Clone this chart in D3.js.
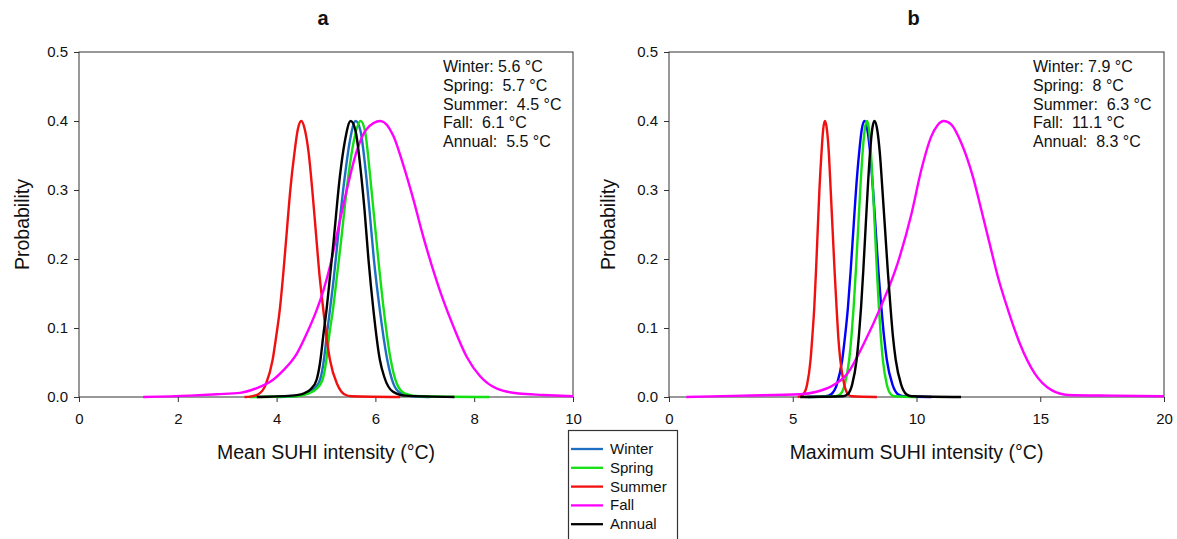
<!DOCTYPE html>
<html>
<head>
<meta charset="utf-8">
<script src="https://cdn.jsdelivr.net/npm/d3@7"></script>
<style>
  html, body { margin: 0; padding: 0; background: #ffffff; }
  svg { display: block; font-family: "Liberation Sans", Arial, sans-serif; }
  text { fill: #111; }
</style>
</head>
<body>
<svg id="chart" width="1177" height="539"></svg>
<script>
// Season names, legend order and colours
const seasons = ["Winter", "Spring", "Summer", "Fall", "Annual"];
const coloursA = ["#1e6ec2", "#12e012", "#f01010", "#ff00ff", "#000000"];
const coloursB = ["#0000ff", "#12e012", "#f01010", "#ff00ff", "#000000"];

// Peak (mean) SUHI intensity per season, °C
const meanA = [5.6, 5.7, 4.5, 6.1, 5.5];
const meanB = [7.9, 8, 6.3, 11.1, 8.3];

// Axis ticks
const xTicksA = [0, 2, 4, 6, 8, 10];
const xTicksB = [0, 5, 10, 15, 20];
const yTicks = [0.0, 0.1, 0.2, 0.3, 0.4, 0.5];

// Probability density curves, [intensity °C, probability] — mean SUHI
const winterA = [[4.0,0],[4.35,0.001],[4.60,0.005],[4.76,0.012],[4.88,0.025],[4.95,0.050],[5.02,0.092],[5.08,0.126],[5.16,0.174],[5.23,0.223],[5.38,0.319],[5.48,0.370],[5.6,0.4],[5.70,0.385],[5.80,0.330],[5.88,0.271],[5.97,0.199],[6.09,0.126],[6.24,0.054],[6.36,0.020],[6.50,0.006],[6.75,0.001],[7.1,0]];
const springA = [[3.45,0],[4.35,0.001],[4.64,0.005],[4.81,0.012],[4.93,0.025],[5.00,0.050],[5.07,0.092],[5.14,0.126],[5.22,0.174],[5.30,0.223],[5.45,0.319],[5.56,0.370],[5.7,0.4],[5.79,0.385],[5.88,0.330],[5.96,0.271],[6.06,0.199],[6.17,0.126],[6.31,0.054],[6.43,0.020],[6.60,0.005],[6.90,0.001],[8.3,0]];
const summerA = [[3.35,0],[3.49,0.001],[3.63,0.004],[3.78,0.018],[3.92,0.054],[3.99,0.087],[4.07,0.130],[4.14,0.183],[4.21,0.243],[4.28,0.302],[4.36,0.353],[4.43,0.388],[4.5,0.4],[4.57,0.388],[4.65,0.353],[4.72,0.302],[4.79,0.243],[4.86,0.183],[4.94,0.130],[5.01,0.087],[5.08,0.054],[5.23,0.018],[5.37,0.004],[5.52,0.001],[6.5,0]];
const fallA = [[1.3,0],[2.25,0.002],[2.79,0.004],[3.26,0.006],[3.60,0.013],[3.87,0.022],[4.14,0.039],[4.41,0.063],[4.61,0.092],[4.81,0.126],[4.95,0.155],[5.08,0.189],[5.22,0.235],[5.42,0.300],[5.62,0.356],[5.82,0.388],[6.1,0.4],[6.36,0.379],[6.57,0.335],[6.77,0.286],[6.97,0.232],[7.17,0.184],[7.37,0.141],[7.58,0.102],[7.85,0.058],[8.12,0.030],[8.46,0.012],[8.9,0.005],[9.4,0.003],[10,0.001]];
const annualA = [[3.6,0],[4.30,0.002],[4.54,0.005],[4.70,0.012],[4.81,0.025],[4.88,0.050],[4.95,0.092],[5.01,0.126],[5.08,0.174],[5.15,0.223],[5.28,0.319],[5.38,0.370],[5.5,0.4],[5.60,0.385],[5.70,0.330],[5.78,0.271],[5.86,0.199],[5.96,0.126],[6.09,0.054],[6.18,0.029],[6.35,0.008],[6.60,0.002],[7.6,0]];

// Probability density curves — maximum SUHI
const winterB = [[5.6,0],[6.33,0.001],[6.55,0.004],[6.78,0.018],[7.00,0.054],[7.11,0.087],[7.23,0.130],[7.34,0.183],[7.45,0.243],[7.56,0.302],[7.68,0.353],[7.79,0.388],[7.9,0.4],[8.01,0.388],[8.13,0.353],[8.24,0.302],[8.35,0.243],[8.46,0.183],[8.58,0.130],[8.69,0.087],[8.80,0.054],[9.03,0.018],[9.25,0.004],[9.48,0.001],[10.6,0]];
const springB = [[5.5,0],[6.74,0.001],[6.92,0.004],[7.10,0.018],[7.28,0.054],[7.37,0.087],[7.46,0.130],[7.55,0.183],[7.64,0.243],[7.73,0.302],[7.82,0.353],[7.91,0.388],[8,0.4],[8.08,0.388],[8.16,0.353],[8.24,0.302],[8.32,0.243],[8.40,0.183],[8.48,0.130],[8.56,0.087],[8.64,0.054],[8.80,0.018],[8.96,0.004],[9.12,0.001],[10.0,0]];
const summerB = [[5.2,0],[5.29,0.001],[5.43,0.004],[5.58,0.018],[5.72,0.054],[5.79,0.087],[5.87,0.130],[5.94,0.183],[6.01,0.243],[6.08,0.302],[6.16,0.353],[6.23,0.388],[6.3,0.4],[6.38,0.388],[6.46,0.353],[6.53,0.302],[6.61,0.243],[6.69,0.183],[6.77,0.130],[6.84,0.087],[6.92,0.054],[7.08,0.018],[7.23,0.004],[7.39,0.001],[8.4,0]];
const fallB = [[0.7,0],[3,0.002],[5.31,0.004],[6.0,0.008],[6.53,0.015],[7.21,0.034],[7.88,0.078],[8.56,0.131],[9.24,0.194],[9.8,0.266],[10.2,0.33],[10.59,0.377],[10.85,0.394],[11.1,0.4],[11.4,0.395],[11.81,0.368],[12.28,0.319],[12.62,0.271],[12.95,0.223],[13.29,0.174],[13.70,0.126],[14.17,0.078],[14.78,0.034],[15.46,0.010],[16.13,0.003],[18,0.002],[20,0.001]];
const annualB = [[5.3,0],[7.04,0.001],[7.22,0.004],[7.40,0.018],[7.58,0.054],[7.67,0.087],[7.76,0.130],[7.85,0.183],[7.94,0.243],[8.03,0.302],[8.12,0.353],[8.21,0.388],[8.3,0.4],[8.41,0.388],[8.52,0.353],[8.62,0.302],[8.73,0.243],[8.84,0.183],[8.95,0.130],[9.05,0.087],[9.16,0.054],[9.38,0.018],[9.59,0.004],[9.81,0.001],[11.8,0]];

const curvesA = [winterA, springA, summerA, fallA, annualA];
const curvesB = [winterB, springB, summerB, fallB, annualB];

const svg = d3.select("#chart");
const plotTop = 52, plotBottom = 397;
const y = d3.scaleLinear().domain([0, 0.5]).range([plotBottom, plotTop]);

const panels = [
  { key: "a", left: 79, right: 573, xmax: 10, ticks: xTicksA, curves: curvesA, means: meanA,
    colours: coloursA, xlabel: "Mean SUHI intensity (°C)", noteX: 443, ylabelX: 29 },
  { key: "b", left: 669, right: 1164, xmax: 20, ticks: xTicksB, curves: curvesB, means: meanB,
    colours: coloursB, xlabel: "Maximum SUHI intensity (°C)", noteX: 1033, ylabelX: 615 }
];

panels.forEach(p => {
  const x = d3.scaleLinear().domain([0, p.xmax]).range([p.left, p.right]);
  const g = svg.append("g");

  // frame
  g.append("rect")
    .attr("x", p.left).attr("y", plotTop)
    .attr("width", p.right - p.left).attr("height", plotBottom - plotTop)
    .attr("fill", "none").attr("stroke", "#333").attr("stroke-width", 1);

  // axes
  const yAxis = g.append("g").attr("transform", `translate(${p.left},0)`)
    .call(d3.axisLeft(y).tickValues(yTicks).tickFormat(d3.format(".1f")).tickSize(5).tickPadding(6));
  const xAxis = g.append("g").attr("transform", `translate(0,${plotBottom})`)
    .call(d3.axisBottom(x).tickValues(p.ticks).tickFormat(d3.format("d")).tickSize(5).tickPadding(11));
  [yAxis, xAxis].forEach(a => {
    a.select(".domain").remove();
    a.selectAll("line").attr("stroke", "#333");
    a.selectAll("text").attr("fill", "#111").style("font-size", "15px")
      .style("font-family", "'Liberation Sans', Arial, sans-serif");
  });

  // density curves
  const line = d3.line().x(d => x(d[0])).y(d => y(d[1])).curve(d3.curveMonotoneX);
  p.curves.forEach((c, i) => {
    g.append("path").datum(c)
      .attr("d", line)
      .attr("fill", "none")
      .attr("stroke", p.colours[i])
      .attr("stroke-width", 2.4)
      .attr("stroke-linejoin", "round");
  });

  // panel title
  g.append("text").attr("x", (p.left + p.right) / 2 - 3).attr("y", 25)
    .attr("text-anchor", "middle").style("font-size", "20px").style("font-weight", "bold")
    .text(p.key);

  // axis titles
  g.append("text").attr("x", (p.left + p.right) / 2).attr("y", 459)
    .attr("text-anchor", "middle").style("font-size", "19.5px").text(p.xlabel);
  g.append("text")
    .attr("transform", `translate(${p.ylabelX},${(plotTop + plotBottom) / 2}) rotate(-90)`)
    .attr("text-anchor", "middle").style("font-size", "19.5px").text("Probability");

  // per-season means
  const pad = ["", " ", " ", " ", " "];
  g.append("g").selectAll("text").data(seasons).join("text")
    .attr("x", p.noteX).attr("y", (d, i) => 72 + i * 18.8)
    .style("font-size", "16px").style("white-space", "pre")
    .text((d, i) => `${d}: ${pad[i]}${p.means[i]} °C`);
});

// legend
const lg = svg.append("g");
lg.append("rect").attr("x", 568.5).attr("y", 430.5).attr("width", 109).attr("height", 112)
  .attr("fill", "#fff").attr("stroke", "#333").attr("stroke-width", 1.2);
seasons.forEach((s, i) => {
  const yy = 449 + i * 18.8;
  lg.append("line").attr("x1", 571).attr("x2", 603).attr("y1", yy).attr("y2", yy)
    .attr("stroke", coloursA[i]).attr("stroke-width", 2.3);
  lg.append("text").attr("x", 610).attr("y", yy + 5).style("font-size", "15px").text(s);
});
</script>
</body>
</html>
